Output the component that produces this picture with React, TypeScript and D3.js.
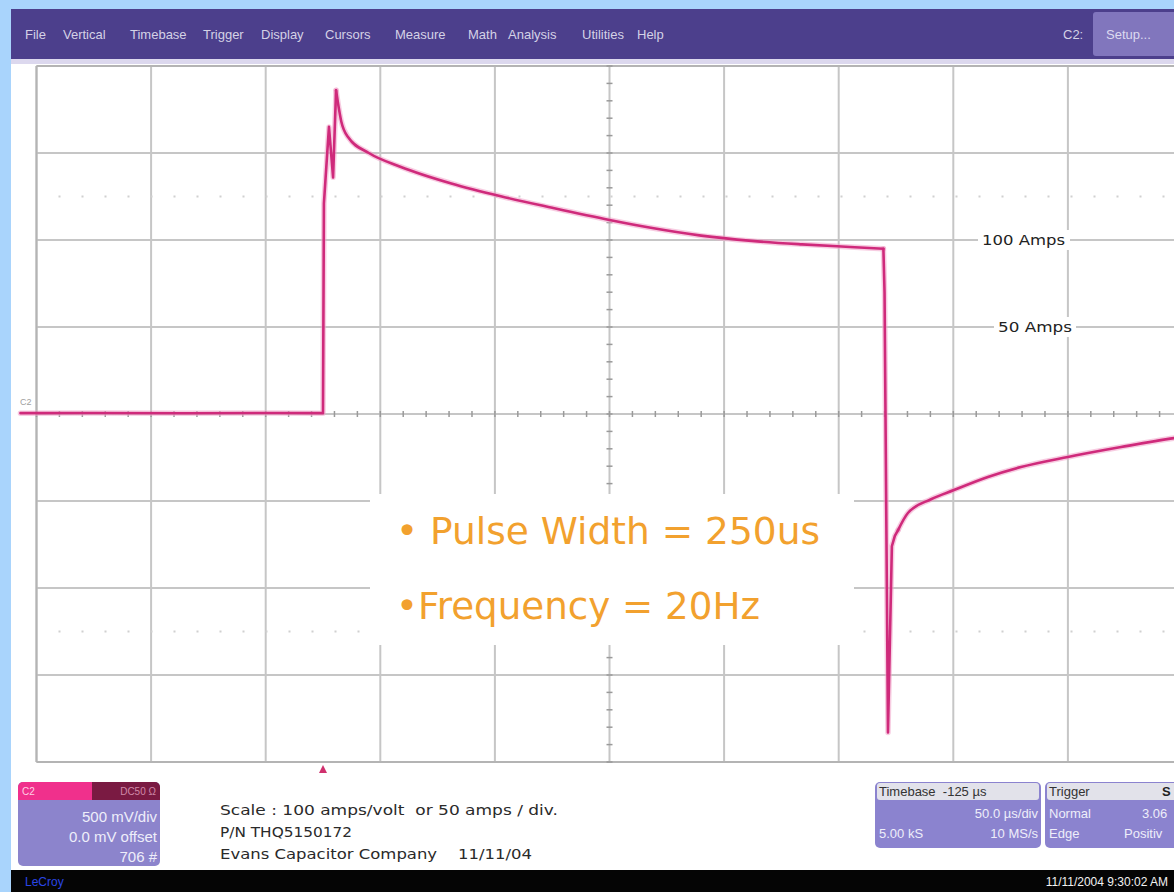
import React from 'react';
import * as d3 from 'd3';

const menuItems = ['File', 'Vertical', 'Timebase', 'Trigger', 'Display', 'Cursors', 'Measure', 'Math', 'Analysis', 'Utilities', 'Help'];

// C2 trace: time in µs from the trigger, current in amps (50 A/div)
const traceTime = [
  -132, -100, -60, -20, -0.5,
  0, 0.4, 2.6, 4.4, 5.7, 8, 11, 20, 34, 56, 78, 100, 125, 143, 165, 187, 209, 230, 244.5,
  245, 246.5, 248.2, 249.5, 250.9, 255.2, 265.3, 275.3, 290.1, 304.5, 325, 348.2, 371.7, 375,
];
const traceAmps = [
  0.5, 0.6, 0.4, 0.6, 0.5,
  0.5, 121, 165, 136, 186, 168, 159, 150, 142, 132.5, 125, 118.5, 111.5, 107, 102.5, 99.5, 97.5, 96, 95,
  70, -183, -76, -70, -66.7, -56.9, -49, -43.7, -36.2, -30.5, -24.7, -19, -13.8, -13.2,
];

const levelAmps = [100, 50];
const levelText = ['100 Amps', '50 Amps'];

const pulseNotes = ['\u2022 Pulse Width = 250us', '\u2022Frequency = 20Hz'];
const scaleNotes = ['Scale : 100 amps/volt  or 50 amps / div.', 'P/N THQ5150172', 'Evans Capacitor Company    11/11/04'];
const channelLines = ['500 mV/div', '0.0 mV offset', '706 #'];
const timebaseLines = ['Timebase  -125 \u00b5s', '50.0 \u00b5s/div', '5.00 kS', '10 MS/s'];
const triggerLines = ['Trigger', 'Normal', '3.06', 'Edge', 'Positiv'];

const W = 1174;
const H = 892;
const UI_FONT = 'Liberation Sans, Arial';

export default function App() {
  const x = d3.scaleLinear().domain([-125, 375]).range([36.5, 1182.5]);
  const y = d3.scaleLinear().domain([-200, 200]).range([762, 66]);

  const majorX = d3.range(-125, 376, 50);
  const majorY = d3.range(-200, 201, 50);
  const minorX = d3.range(-125, 376, 10);
  const minorY = d3.range(-200, 201, 10);

  const trace = d3.range(traceTime.length).map(i => [traceTime[i], traceAmps[i]] as [number, number]);
  const sharp = d3.line<[number, number]>().x(d => x(d[0])).y(d => y(d[1]));
  const smooth = d3.line<[number, number]>().x(d => x(d[0])).y(d => y(d[1])).curve(d3.curveMonotoneX);

  // edges and spikes are straight, the two decays are smooth
  const decayStart = traceTime.indexOf(5.7);
  const decayEnd = traceTime.indexOf(244.5);
  const recStart = traceTime.indexOf(250.9);
  const paths = [
    sharp(trace.slice(0, decayStart + 1)),
    smooth(trace.slice(decayStart, decayEnd + 1)),
    sharp(trace.slice(decayEnd, recStart + 1)),
    smooth(trace.slice(recStart)),
  ].map(p => p || '');

  const cx = x(125);
  const cy = y(0);
  const menuX = [25, 63, 130, 203, 261, 325, 395, 468, 508, 582, 637];

  return (
    <svg width={W} height={H} style={{ position: 'absolute', left: 0, top: 0, display: 'block' }}>
      <rect width={W} height={H} fill="#a9d4fc" />
      <rect x={11} y={9} width={W - 11} height={H - 9} fill="#ffffff" />

      {/* menu bar */}
      <rect x={11} y={9} width={W - 11} height={50} fill="#4c3f8c" />
      <rect x={11} y={59} width={W - 11} height={5} fill="#dcd8ee" />
      {menuItems.map((m, i) => (
        <text key={m} x={menuX[i]} y={39} fontFamily={UI_FONT} fontSize={13} fill="#d4d2e6">{m}</text>
      ))}
      <text x={1063} y={39} fontFamily={UI_FONT} fontSize={13} fill="#d4d2e6">C2:</text>
      <rect x={1093} y={12} width={90} height={44} rx={3} fill="#8176bd" />
      <text x={1106} y={39} fontFamily={UI_FONT} fontSize={13} fill="#dcdaf0">Setup...</text>

      {/* graticule */}
      <g stroke="#c6c6c6" strokeWidth={2}>
        {majorX.map(t => <line key={'vx' + t} x1={x(t)} x2={x(t)} y1={y(200)} y2={y(-200)} />)}
        {majorY.map(a => <line key={'hy' + a} x1={x(-125)} x2={x(375)} y1={y(a)} y2={y(a)} />)}
      </g>
      <g stroke="#b4b4b4" strokeWidth={2} fill="none">
        <line x1={x(-125)} x2={x(-125)} y1={y(200)} y2={y(-200)} />
        <line x1={x(-125)} x2={x(375)} y1={y(200)} y2={y(200)} />
        <line x1={x(-125)} x2={x(375)} y1={y(-200)} y2={y(-200)} />
      </g>
      <g stroke="#d0d0d0" strokeWidth={2} strokeDasharray="2 21">
        {[125, -125].map(a => <line key={'dot' + a} x1={x(-125) + 22} x2={x(375)} y1={y(a)} y2={y(a)} />)}
      </g>
      <g stroke="#9a9a9a" strokeWidth={1.5}>
        {minorX.map(t => <line key={'tx' + t} x1={x(t)} x2={x(t)} y1={cy - 3} y2={cy + 3} />)}
        {minorY.map(a => <line key={'ty' + a} x1={cx - 3} x2={cx + 3} y1={y(a)} y2={y(a)} />)}
      </g>
      <text x={20} y={405} fontFamily={UI_FONT} fontSize={9} fill="#a0a0a0">C2</text>

      {/* level labels */}
      {levelAmps.map((a, i) => (
        <g key={levelText[i]}>
          <rect x={i === 0 ? 978 : 994} y={y(a) - 10} width={i === 0 ? 92 : 82} height={20} fill="#ffffff" />
          <text x={i === 0 ? 982 : 998} y={y(a) + 5} fontFamily="DejaVu Sans" fontSize={13.5} fill="#222"
            textLength={i === 0 ? 83 : 74} lengthAdjust="spacingAndGlyphs">{levelText[i]}</text>
        </g>
      ))}

      {/* trace */}
      <g fill="none" strokeLinejoin="round" strokeLinecap="round">
        {paths.map((p, i) => <path key={'h' + i} d={p} stroke="#f0a3c9" strokeWidth={5.5} strokeOpacity={0.55} />)}
        {paths.map((p, i) => <path key={'t' + i} d={p} stroke="#cf2a7b" strokeWidth={2.6} />)}
      </g>

      {/* trigger marker */}
      <path d={`M${x(0)},765 l-4,8 l8,0 z`} fill="#d0306e" />

      {/* pulse annotation */}
      <rect x={370} y={494} width={484} height={151} fill="#ffffff" />
      <text x={396} y={544} fontFamily="DejaVu Sans" fontSize={38} fill="#f2a12e"
        textLength={424} lengthAdjust="spacingAndGlyphs">{pulseNotes[0]}</text>
      <text x={396} y={619} fontFamily="DejaVu Sans" fontSize={38} fill="#f2a12e"
        textLength={364} lengthAdjust="spacingAndGlyphs">{pulseNotes[1]}</text>

      {/* channel box */}
      <rect x={18} y={782} width={142} height={84} rx={5} fill="#8c84cc" />
      <path d="M23,782 h69 v18 h-74 v-13 a5,5 0 0 1 5,-5 z" fill="#f0308c" />
      <path d="M92,782 h63 a5,5 0 0 1 5,5 v13 h-68 z" fill="#7a1a42" />
      <text x={22} y={795} fontFamily={UI_FONT} fontSize={10} fill="#ffd0e4">C2</text>
      <text x={156} y={795} textAnchor="end" fontFamily={UI_FONT} fontSize={10} fill="#d08aa8">DC50 Ω</text>
      {channelLines.map((s, i) => (
        <text key={s} x={157} y={822 + i * 20} textAnchor="end" fontFamily={UI_FONT} fontSize={15} fill="#eeeefa">{s}</text>
      ))}

      {scaleNotes.map((s, i) => (
        <text key={s} x={220} y={815 + i * 22} fontFamily="DejaVu Sans" fontSize={14} fill="#2a2a2a"
          style={{ whiteSpace: 'pre' }}
          textLength={i === 0 ? 338 : i === 1 ? 132 : 312} lengthAdjust="spacingAndGlyphs">{s}</text>
      ))}

      {/* timebase box */}
      <rect x={875} y={782} width={166} height={66} rx={5} fill="#8b83cf" />
      <rect x={877} y={783} width={162} height={17} rx={3} fill="#e2e2ea" />
      <text x={879} y={796} fontFamily={UI_FONT} fontSize={13} fill="#333" style={{ whiteSpace: 'pre' }}>{timebaseLines[0]}</text>
      <text x={1038} y={818} textAnchor="end" fontFamily={UI_FONT} fontSize={13} fill="#eeeefa">{timebaseLines[1]}</text>
      <text x={879} y={838} fontFamily={UI_FONT} fontSize={13} fill="#eeeefa">{timebaseLines[2]}</text>
      <text x={1038} y={838} textAnchor="end" fontFamily={UI_FONT} fontSize={13} fill="#eeeefa">{timebaseLines[3]}</text>

      {/* trigger box */}
      <rect x={1045} y={782} width={160} height={66} rx={5} fill="#8b83cf" />
      <rect x={1047} y={783} width={156} height={17} rx={3} fill="#e2e2ea" />
      <text x={1049} y={796} fontFamily={UI_FONT} fontSize={13} fill="#333">{triggerLines[0]}</text>
      <text x={1162} y={796} fontFamily={UI_FONT} fontSize={13} fontWeight="bold" fill="#222">S</text>
      <text x={1049} y={818} fontFamily={UI_FONT} fontSize={13} fill="#eeeefa">{triggerLines[1]}</text>
      <text x={1142} y={818} fontFamily={UI_FONT} fontSize={13} fill="#eeeefa">{triggerLines[2]}</text>
      <text x={1049} y={838} fontFamily={UI_FONT} fontSize={13} fill="#eeeefa">{triggerLines[3]}</text>
      <text x={1124} y={838} fontFamily={UI_FONT} fontSize={13} fill="#eeeefa">{triggerLines[4]}</text>

      {/* status bar */}
      <rect x={11} y={870} width={W - 11} height={22} fill="#050505" />
      <text x={25} y={886} fontFamily={UI_FONT} fontSize={12} fill="#2a46e6">LeCroy</text>
      <text x={1168} y={886} textAnchor="end" fontFamily={UI_FONT} fontSize={12} fill="#f2f2f2">11/11/2004 9:30:02 AM</text>
    </svg>
  );
}
